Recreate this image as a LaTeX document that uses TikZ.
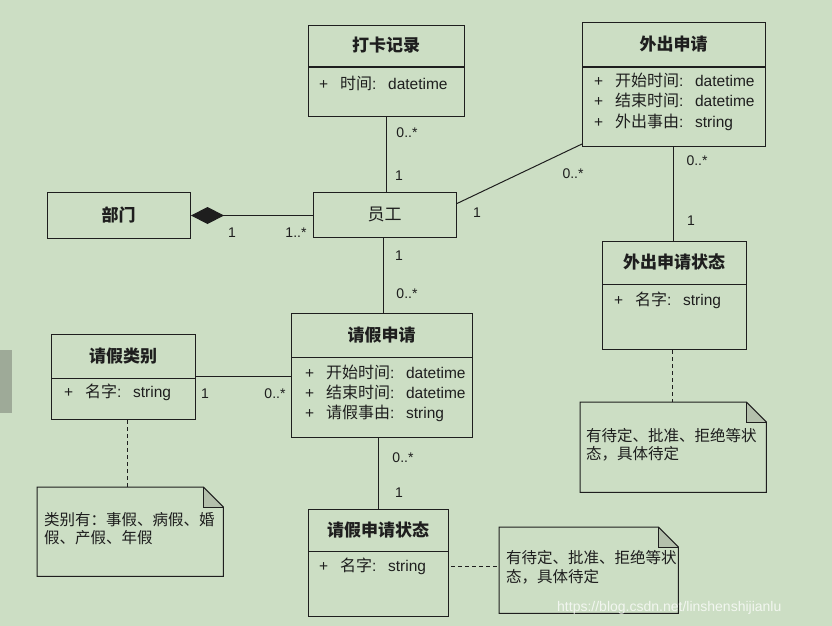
\documentclass[tikz,border=0pt]{standalone}
\usepackage{fontspec}
\setmainfont{Liberation Sans}
\newfontfamily\cjk{Noto Sans CJK SC}
\usetikzlibrary{arrows.meta,calc}
\definecolor{bg}{HTML}{CCDEC4}
\definecolor{ink}{HTML}{1E1E1E}
\definecolor{foldc}{HTML}{B4C0AC}
\definecolor{patch}{HTML}{9EAA98}
\tikzset{
  box/.style={draw=ink, line width=1pt, inner sep=0pt, anchor=north west},
  ttl/.style={font=\cjk\bfseries\fontsize{17}{19}\selectfont, inner sep=0pt, text=ink, anchor=base},
  attrs/.style={font=\fontsize{15.5}{17}\selectfont, inner sep=0pt, text=ink, anchor=base west},
  mult/.style={font=\fontsize{14}{16}\selectfont, inner sep=0pt, text=ink, anchor=base},
  notetext/.style={font=\cjk\fontsize{15.5}{18}\selectfont, inner sep=0pt, text=ink, anchor=base west},
  conn/.style={draw=ink, line width=1pt},
  dashconn/.style={draw=ink, line width=1pt, dash pattern=on 4pt off 3pt},
}
% class box: name l t r b div title
\newcommand\umlcls[7]{%
  \node[box, minimum width={(#4-#2)*1pt}, minimum height={(#5-#3)*1pt}] (#1) at (#2,#3) {};
  \draw[conn] (#2,#6) -- (#4,#6);
  \node[ttl] (#1-t) at ({(#2+#4)/2},{(#3+#6)/2+6}) {#7};}
% attribute: name x y cjk type
\newcommand\umlattr[5]{%
  \node[attrs] (#1p) at (#2,{#3+5}) {+};
  \node[attrs] (#1) at ({#2+21},{#3+5}) {{\cjk\fontsize{16}{18}\selectfont #4}:\hspace{0.75em}#5};}
% note: name l t r b
\newcommand\umlnote[5]{%
  \node[inner sep=0pt, anchor=north west, minimum width={(#4-#2)*1pt}, minimum height={(#5-#3)*1pt}] (#1) at (#2,#3) {};
  \fill[foldc] ($(#1.north east)+(-20,0)$) -- ($(#1.north east)+(-20,20)$) -- ($(#1.north east)+(0,20)$) -- cycle;
  \draw[conn, line join=miter] (#1.north west) -- ($(#1.north east)+(-20,0)$) -- ($(#1.north east)+(0,20)$) -- (#1.south east) -- (#1.south west) -- cycle;
  \draw[draw=ink, line width=0.6pt] ($(#1.north east)+(-20,0)$) -- ($(#1.north east)+(-20,20)$) -- ($(#1.north east)+(0,20)$);}
\begin{document}
\begin{tikzpicture}[x=1pt,y=-1pt]
\fill[bg] (0,0) rectangle (832,626);
\useasboundingbox (0,0) rectangle (832,626);
\fill[patch] (0,350) rectangle (12,413);

% ---- classes ----
\umlcls{dk}{308}{25}{464}{116}{67}{打卡记录}
\umlattr{dka}{319}{84}{时间}{datetime}

\umlcls{wc}{582}{22}{765}{146}{67}{外出申请}
\umlattr{wca}{594}{81}{开始时间}{datetime}
\umlattr{wcb}{594}{101}{结束时间}{datetime}
\umlattr{wcc}{594}{122}{外出事由}{string}

\node[box, minimum width=143pt, minimum height=46pt] (bm) at (47,192) {};
\node[ttl] (bm-t) at (118.5,221) {部门};

\node[box, minimum width=143pt, minimum height=45pt] (yg) at (313,192) {};
\node[ttl, font=\cjk\fontsize{17}{19}\selectfont] (yg-t) at (384.5,220.5) {员工};

\umlcls{wczt}{602}{241}{746}{349}{284}{外出申请状态}
\umlattr{wczta}{614}{300}{名字}{string}

\umlcls{qj}{291}{313}{472}{437}{357}{请假申请}
\umlattr{qja}{305}{373}{开始时间}{datetime}
\umlattr{qjb}{305}{393}{结束时间}{datetime}
\umlattr{qjc}{305}{413}{请假事由}{string}

\umlcls{qlb}{51}{334}{195}{419}{378}{请假类别}
\umlattr{qlba}{64}{392}{名字}{string}

\umlcls{qjzt}{308}{509}{448}{616}{551}{请假申请状态}
\umlattr{qjzta}{319}{566}{名字}{string}

% ---- notes ----
\umlnote{n1}{37}{487}{223}{576}
\node[notetext] (n1a) at (44,525) {类别有：事假、病假、婚};
\node[notetext] (n1b) at (44,543) {假、产假、年假};
\umlnote{n2}{580}{402}{766}{492}
\node[notetext] (n2a) at (586,441) {有待定、批准、拒绝等状};
\node[notetext] (n2b) at (586,459) {态，具体待定};
\umlnote{n3}{499}{527}{678}{613}
\node[notetext] (n3a) at (506,563) {有待定、批准、拒绝等状};
\node[notetext] (n3b) at (506,582) {态，具体待定};

% ---- connectors ----
\draw[conn] (dk.south -| 386,0) -- (yg.north -| 386,0);
\draw[conn] ([yshift=11.5pt]yg.east) -- ([yshift=3pt]wc.south west);
\draw[conn] (wc.south -| 673,0) -- (wczt.north -| 673,0);
\draw[conn, {Diamond[length=33pt,width=17pt,fill=ink]}-] (bm.east) -- (yg.west |- bm.east);
\draw[conn] (yg.south -| 383,0) -- (qj.north -| 383,0);
\draw[conn] (qlb.east |- 0,376) -- (qj.west |- 0,376);
\draw[conn] (qj.south -| 378,0) -- (qjzt.north -| 378,0);
\draw[dashconn] (qlb.south -| 127,0) -- (n1.north -| 127,0);
\draw[dashconn] (wczt.south -| 672,0) -- (n2.north -| 672,0);
\draw[dashconn] ([xshift=2pt]qjzt.east |- 0,566) -- (n3.west |- 0,566);

% ---- multiplicities ----
\node[mult] (m1) at (407,137) {0..*};
\node[mult] (m2) at (399,180) {1};
\node[mult] (m3) at (573,178) {0..*};
\node[mult] (m4) at (477,217) {1};
\node[mult] (m5) at (697,165) {0..*};
\node[mult] (m6) at (691,225) {1};
\node[mult] (m7) at (232,237) {1};
\node[mult] (m8) at (296,237) {1..*};
\node[mult] (m9) at (399,260) {1};
\node[mult] (m10) at (407,298) {0..*};
\node[mult] (m11) at (205,398) {1};
\node[mult] (m12) at (275,398) {0..*};
\node[mult] (m13) at (403,462) {0..*};
\node[mult] (m14) at (399,497) {1};

% ---- watermark ----
\node[font=\fontsize{14}{16}\selectfont, text=white, opacity=0.75, inner sep=0pt, anchor=base west] (wm) at (557,611) {https://blog.csdn.net/linshenshijianlu};
\end{tikzpicture}
\end{document}
